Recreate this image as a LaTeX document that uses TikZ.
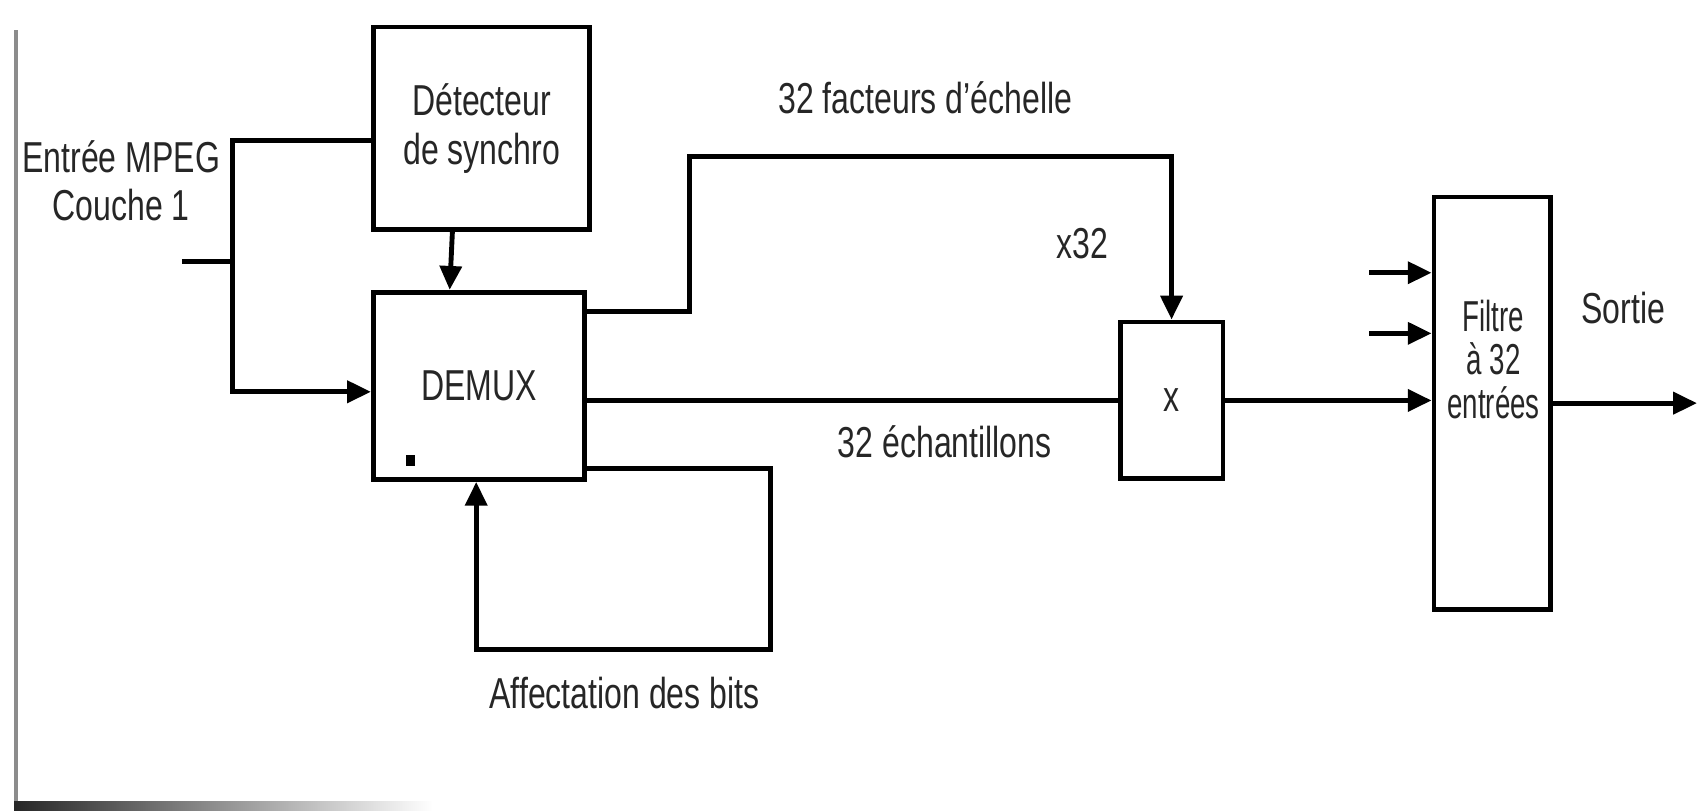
\documentclass[tikz,border=0pt]{standalone}
\usepackage{fontspec}
\setmainfont{Liberation Sans}[FakeStretch=0.74]
\newfontfamily\narrowfont{Liberation Sans}[FakeStretch=0.64]
\usetikzlibrary{arrows.meta,calc}
\begin{document}
\begin{tikzpicture}[x=1pt,y=-1pt,
  blk/.style={draw=black,line width=4.5pt,rectangle,inner sep=0pt,text=black!85},
  wire/.style={draw=black,line width=4.5pt},
  arr/.style={wire,-{Triangle[length=22pt,width=20pt]}},
  lbl/.style={text=black!85,inner sep=0pt,align=center,font=\fontsize{40}{45}\selectfont},
  font=\fontsize{40}{45}\selectfont]
\useasboundingbox (0,0) rectangle (1568,750);
% scan border
\draw[line width=4pt,black!45] (15,28) -- (15,745);
\shade[left color=black!85,right color=white] (13,741) rectangle (400,749);
% blocks
\node[blk,minimum width=200pt,minimum height=187pt,align=center] (sync) at (445,118.5) {Détecteur\\de synchro};
\node[blk,minimum width=195pt,minimum height=173pt] (demux) at (442.5,356.5) {DEMUX};
\node[blk,minimum width=95pt,minimum height=145pt] (mult) at (1082.5,370) {x};
\node[blk,minimum width=108pt,minimum height=381pt] (filt) at (1379,372.5) {};
\node[lbl,font=\narrowfont\fontsize{40}{40}\selectfont] (filttxt) at (1380,332) {Filtre\\à 32\\entrées};
\fill[black] (375,420) rectangle (383,431);
% labels
\node[lbl] (entree) at (112,167) {Entrée MPEG\\Couche 1};
\node[lbl] (fact) at (855,90) {32 facteurs d'échelle};
\node[lbl] (x32) at (1000,225) {x32};
\node[lbl] (ech) at (873,408) {32 échantillons};
\node[lbl] (sortie) at (1500,285) {Sortie};
\node[lbl] (affect) at (577,640) {Affectation des bits};
% coordinates
\coordinate (in) at (168,242);
\coordinate (j) at (215,242);
\coordinate (b1) at (637,145);
\coordinate (f1) at (712,600);
\coordinate (s1) at (1265,252);
\coordinate (s2) at (1265,308);
\coordinate (out) at (1568,372.5);
% connectors
\draw[wire] (in) -- (j);
\draw[wire] (j) |- ([yshift=-11.5pt]sync.west);
\draw[arr] (j) |- ([yshift=-5.5pt]demux.west);
\draw[arr] ([xshift=-27pt]sync.south) -- ([xshift=-27pt]demux.north);
\draw[arr] ([yshift=68.5pt]demux.east) -| (b1) -| (mult.north);
\draw[wire] ([yshift=-13.5pt]demux.east) -- (mult.west);
\draw[arr] (mult.east) -- (mult.east -| filt.west);
\draw[arr] (s1) -- (s1 -| filt.west);
\draw[arr] (s2) -- (s2 -| filt.west);
\draw[arr] (filt.east) -- (out);
\draw[arr] ([yshift=-76.5pt]demux.east) -| (f1) -| ([xshift=-2.5pt]demux.south);
\end{tikzpicture}
\end{document}
